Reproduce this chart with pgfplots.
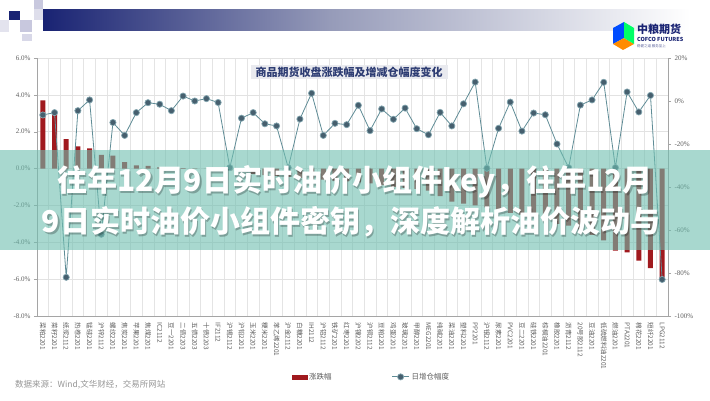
\documentclass[border=0pt]{standalone}
\usepackage{fontspec}
\setmainfont{Noto Sans CJK SC}
\newfontfamily\serif{Liberation Serif}
\usepackage{pgfplots}
\pgfplotsset{compat=1.18}

\definecolor{barred}{RGB}{160,25,30}
\definecolor{linec}{RGB}{95,140,150}
\definecolor{markc}{RGB}{70,95,110}
\definecolor{markedge}{RGB}{130,165,175}
\definecolor{axgray}{RGB}{165,165,165}
\definecolor{hgrid}{RGB}{226,226,226}
\definecolor{vgrid}{RGB}{228,228,228}
\definecolor{ticktext}{RGB}{95,95,95}
\definecolor{bandteal}{RGB}{110,190,175}
\definecolor{navyhead}{RGB}{25,35,115}
\definecolor{headmid}{RGB}{150,155,185}
\definecolor{lav}{RGB}{200,200,222}
\definecolor{titlebox}{RGB}{233,234,239}
\definecolor{titletext}{RGB}{45,60,115}
\definecolor{srcgray}{RGB}{150,150,150}

\begin{document}
\begin{tikzpicture}[x=1pt,y=1pt]
\fill[white] (0,0) rectangle (710,400);

% header banner and mosaic
\shade[left color=navyhead, right color=headmid] (43,369) rectangle (330,390);
\shade[left color=headmid, right color=white] (330,369) rectangle (690,390);
\fill[navyhead] (9,380) rectangle (20,389);
\fill[lav] (34,391) rectangle (43,400);
\fill[lav!60] (34,380) rectangle (43,391);
\fill[lav] (20,368) rectangle (32,380);
\fill[lav!70] (22,359) rectangle (32,366);
\fill[lav!50] (0,368) rectangle (9,380);

% logo
\fill[blue!70!cyan] (613,372) -- (624,378) -- (624,362) -- (613,356) -- cycle;
\fill[orange!90!yellow] (613,356) -- (624,362) -- (634,356) -- (623,350) -- cycle;
\fill[green!60!cyan] (624,378) -- (634,372) -- (634,356) -- (624,362) -- cycle;
\node[anchor=west, font=\bfseries\fontsize{11}{12}\selectfont, text=navyhead, inner sep=0pt] at (637,371) {中粮期货};
\node[anchor=west, font=\bfseries\fontsize{5.5}{6}\selectfont, text=navyhead, inner sep=0pt] at (637,361) {COFCO FUTURES};
\node[anchor=west, font=\fontsize{3.5}{4}\selectfont, text=navyhead!70, inner sep=0pt] at (637,354) {稳健之道 服务至上};

\begin{axis}[
  at={(37pt,84pt)}, anchor=south west,
  scale only axis, width=631pt, height=258pt,
  xmin=0.5, xmax=54.5, ymin=-8, ymax=6,
  axis x line*=bottom, axis y line*=left,
  axis line style={draw=axgray},
  tick align=outside, major tick length=3pt, minor tick length=0pt,
  ytick={-8,-6,...,6},
  yticklabel={\pgfmathprintnumber[fixed,fixed zerofill,precision=1]{\tick}\%},
  /pgf/number format/assume math mode=true,
  yticklabel style={font=\serif\fontsize{7}{8}\selectfont, text=ticktext},
  ytick style={draw=axgray},
  ymajorgrids, major grid style={draw=hgrid, line width=0.5pt},
  xtick={1,...,54},
  xticklabels={菜粕2201,菜籽2201,纸浆2112,热卷2201,锰硅2201,沪锌2112,螺纹2201,焦炭2201,苹果2201,焦煤2201,IC2112,豆一2201,二债2203,五债2203,十债2203,IF2112,沪锡2112,沪铅2201,玉米2201,粳米2201,苯乙烯2201,沪金2112,白糖2201,IH2112,沪铝2112,铁矿2201,红枣2201,沪镍2202,沪铜2112,豆粕2201,鸡蛋2201,玻璃2201,甲醇2201,MEG2201,纯碱2201,菜油2201,塑料2201,PP2201,沪银2112,尿素2201,PVC2201,豆二2201,硅铁2201,棕榈油2201,橡胶2201,沥青2112,20号胶2112,豆油2201,低硫燃料油2201,燃油2201,PTA2201,棉花2201,短纤2201,LPG2112},
  xticklabel style={rotate=-90, anchor=west, font=\fontsize{6.5}{7}\selectfont, text=ticktext},
  xtick style={draw=none},
  minor xtick={0.5,1.5,...,54.5},
  xminorgrids, minor x grid style={draw=vgrid, line width=0.5pt},
  clip=false,
]
\addplot[ybar, bar width=5pt, fill=barred, draw=none] coordinates {
(1,3.7) (2,3.0) (3,1.6) (4,1.2) (5,1.1) (6,0.75) (7,0.7) (8,0.35) (9,0.17) (10,0.15)
(11,0.06) (12,0.03) (13,0.02) (14,0.01) (15,0.0) (16,-0.05) (17,-0.1) (18,-0.15) (19,-0.3) (20,-0.35)
(21,-0.4) (22,-0.45) (23,-0.5) (24,-0.55) (25,-0.6) (26,-0.65) (27,-0.7) (28,-0.75) (29,-0.8) (30,-0.9)
(31,-1.0) (32,-1.05) (33,-1.1) (34,-1.2) (35,-1.5) (36,-1.8) (37,-1.9) (38,-2.0) (39,-2.1) (40,-2.3)
(41,-2.4) (42,-2.5) (43,-2.6) (44,-2.8) (45,-3.0) (46,-3.1) (47,-3.3) (48,-3.6) (49,-3.9) (50,-4.45)
(51,-4.55) (52,-5.0) (53,-5.4) (54,-6.0)
};
\end{axis}

\begin{axis}[
  at={(37pt,84pt)}, anchor=south west,
  scale only axis, width=631pt, height=258pt,
  xmin=0.5, xmax=54.5, ymin=-100, ymax=20,
  axis x line=none, axis y line*=right,
  axis line style={draw=axgray},
  tick align=outside, major tick length=3pt,
  ytick={-100,-80,...,20},
  yticklabel={\pgfmathprintnumber{\tick}\%},
  /pgf/number format/assume math mode=true,
  yticklabel style={font=\serif\fontsize{7}{8}\selectfont, text=ticktext},
  ytick style={draw=axgray},
  clip=false,
  legend style={at={(0.53,-0.236)}, anchor=center, draw=none, fill=none,
    legend columns=2, font=\fontsize{7.5}{9}\selectfont, text=ticktext,
    /tikz/every even column/.append style={column sep=58pt}},
]
\addlegendimage{legend image code/.code={\fill[barred] (0pt,-2pt) rectangle (15pt,2pt);}}
\addlegendentry{涨跌幅}
\addplot[color=linec, line width=0.8pt, mark=*, mark size=3.1pt,
  mark options={fill=markc, draw=markedge, line width=0.7pt}] coordinates {
(1,-6.5) (2,-5.4) (3,-82) (4,-4.5) (5,0.5) (6,-62) (7,-10) (8,-16) (9,-5.4) (10,-0.8)
(11,-1.5) (12,-4.5) (13,2.3) (14,0) (15,1.1) (16,-0.7) (17,-31) (18,-8) (19,-5.4) (20,-10.6)
(21,-11.6) (22,-31) (23,-8.4) (24,3.6) (25,-16) (26,-10.4) (27,-11) (28,-2) (29,-13.8) (30,-3.7)
(31,-8.5) (32,-3.3) (33,-12.9) (34,-15.7) (35,-5.3) (36,-11.6) (37,-1.3) (38,8.8) (39,-31.3) (40,-12.7)
(41,-0.5) (42,-14) (43,-5.6) (44,-6.4) (45,-20) (46,-31) (47,-1.9) (48,0.5) (49,8.7) (50,-31)
(51,4.2) (52,-5.1) (53,2.6) (54,-83)
};
\addlegendentry{日增仓幅度}
\end{axis}

% chart title box
\node[fill=titlebox, text=titletext, font=\bfseries\fontsize{11}{12}\selectfont, inner xsep=5pt, inner ysep=2pt] at (349,328) {商品期货收盘涨跌幅及增减仓幅度变化};

% source
\node[anchor=west, font=\fontsize{8.5}{10}\selectfont, text=srcgray, inner sep=0pt] at (15,15) {数据来源：Wind,文华财经，交易所网站};

% overlay band with headline
\fill[bandteal, opacity=0.6] (0,150) rectangle (710,250);
\begin{scope}[font=\bfseries\fontsize{30}{31}\selectfont]
\node[text=black, opacity=0.25] at (356.5,216.5) {往年12月9日实时油价小组件key，往年12月};
\node[text=white] at (355,218) {往年12月9日实时油价小组件key，往年12月};
\node[text=black, opacity=0.25] at (352.5,176.5) {9日实时油价小组件密钥，深度解析油价波动与};
\node[text=white] at (351,178) {9日实时油价小组件密钥，深度解析油价波动与};
\end{scope}
\end{tikzpicture}
\end{document}
